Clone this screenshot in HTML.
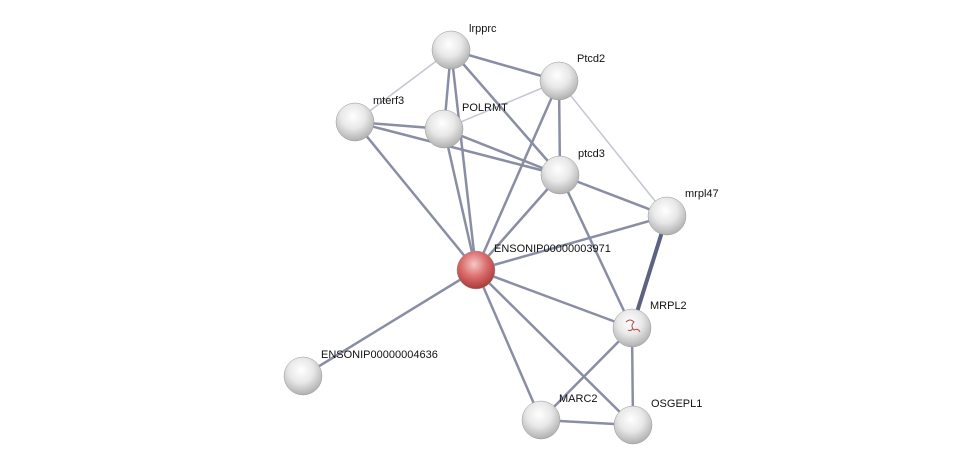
<!DOCTYPE html>
<html><head><meta charset="utf-8"><style>
html,body{margin:0;padding:0;background:#fff;}
svg{display:block;}
text{font-family:"Liberation Sans",sans-serif;font-size:11px;fill:#111;}
</style></head><body>
<svg width="976" height="470" viewBox="0 0 976 470" xmlns="http://www.w3.org/2000/svg">
<defs>
<radialGradient id="g" cx="45%" cy="35%" r="65%">
<stop offset="0" stop-color="#ffffff"/><stop offset="0.5" stop-color="#e8e8e8"/><stop offset="1" stop-color="#b0b0b0"/>
</radialGradient>
<radialGradient id="r" cx="45%" cy="35%" r="65%">
<stop offset="0" stop-color="#f6c8c8"/><stop offset="0.5" stop-color="#dd6f6f"/><stop offset="1" stop-color="#a83a3a"/>
</radialGradient>
</defs>
<g stroke="#8a8ea4" stroke-width="2.5" fill="none">
<line x1="451" y1="50" x2="559" y2="81"/>
<line x1="451" y1="50" x2="444" y2="129"/>
<line x1="451" y1="50" x2="560" y2="175"/>
<line x1="451" y1="50" x2="476" y2="270"/>
<line x1="559" y1="81" x2="560" y2="175"/>
<line x1="559" y1="81" x2="476" y2="270"/>
<line x1="355" y1="122" x2="444" y2="129"/>
<line x1="355" y1="122" x2="560" y2="175"/>
<line x1="355" y1="122" x2="476" y2="270"/>
<line x1="444" y1="129" x2="560" y2="175"/>
<line x1="444" y1="129" x2="476" y2="270"/>
<line x1="560" y1="175" x2="476" y2="270"/>
<line x1="560" y1="175" x2="667" y2="216"/>
<line x1="560" y1="175" x2="632" y2="328"/>
<line x1="667" y1="216" x2="476" y2="270"/>
<line x1="476" y1="270" x2="632" y2="328"/>
<line x1="476" y1="270" x2="303" y2="376"/>
<line x1="476" y1="270" x2="541" y2="420"/>
<line x1="476" y1="270" x2="633" y2="425"/>
<line x1="632" y1="328" x2="541" y2="420"/>
<line x1="632" y1="328" x2="633" y2="425"/>
<line x1="541" y1="420" x2="633" y2="425"/>
</g>
<g stroke="#5e6282" stroke-width="4"><line x1="667" y1="216" x2="632" y2="328"/></g>
<g stroke="#c4c6d2" stroke-width="1.5">
<line x1="451" y1="50" x2="355" y2="122"/>
<line x1="559" y1="81" x2="444" y2="129"/>
<line x1="559" y1="81" x2="667" y2="216"/>
</g>
<g stroke="#999" stroke-width="0.5">
<circle cx="451" cy="50" r="19" fill="url(#g)"/>
<circle cx="559" cy="81" r="19" fill="url(#g)"/>
<circle cx="355" cy="122" r="19" fill="url(#g)"/>
<circle cx="444" cy="129" r="19" fill="url(#g)"/>
<circle cx="560" cy="175" r="19" fill="url(#g)"/>
<circle cx="667" cy="216" r="19" fill="url(#g)"/>
<circle cx="476" cy="270" r="19" fill="url(#r)"/>
<circle cx="632" cy="328" r="19" fill="url(#g)"/>
<circle cx="303" cy="376" r="19" fill="url(#g)"/>
<circle cx="541" cy="420" r="19" fill="url(#g)"/>
<circle cx="633" cy="425" r="19" fill="url(#g)"/>
</g>
<path d="M626 322 q4 -4 8 0 q-4 4 0 8 q4 -2 6 2 M628 330 q3 2 5 -2" stroke="#b05050" stroke-width="1" fill="none"/>
<text x="469" y="32">lrpprc</text>
<text x="577" y="62">Ptcd2</text>
<text x="373" y="104">mterf3</text>
<text x="462" y="111">POLRMT</text>
<text x="578" y="157">ptcd3</text>
<text x="685" y="197">mrpl47</text>
<text x="494" y="252">ENSONIP00000003971</text>
<text x="650" y="309">MRPL2</text>
<text x="321" y="358">ENSONIP00000004636</text>
<text x="559" y="402">MARC2</text>
<text x="651" y="407">OSGEPL1</text>
</svg>
</body></html>
